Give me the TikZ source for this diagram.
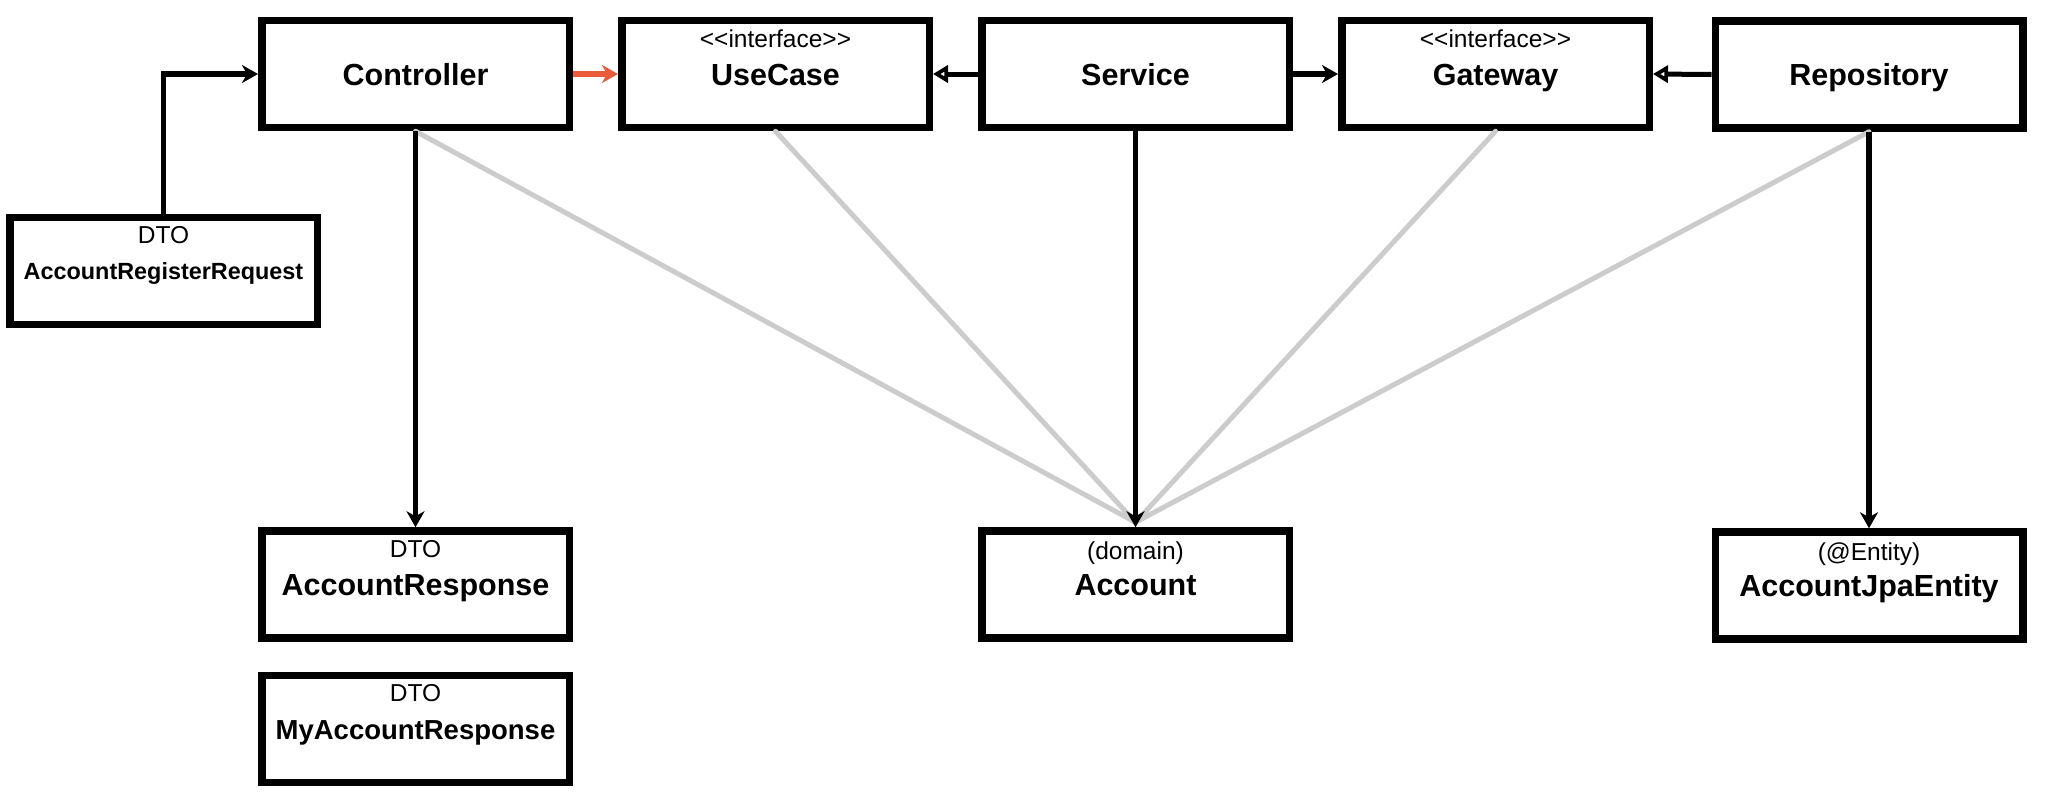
\documentclass[tikz,border=0pt]{standalone}
\usepackage{fontspec}
\setmainfont{Liberation Sans}
\usetikzlibrary{arrows.meta}
\definecolor{arrred}{HTML}{EA5B3C}
\definecolor{lgray}{HTML}{CCCCCC}
\begin{document}
\begin{tikzpicture}[x=1pt,y=-1pt,
  box/.style={draw=black, line width=7.5pt, rectangle, minimum width=307.5pt, minimum height=107pt, inner sep=0pt, fill=white, font=\fontsize{30.5}{36}\selectfont\bfseries, text height=22pt, text depth=0pt},
  smallname/.style={font=\fontsize{23.4}{28}\selectfont\bfseries, text height=17pt},
  midname/.style={font=\fontsize{27.5}{32}\selectfont\bfseries, text height=20pt},
  lbl/.style={font=\fontsize{24.5}{29}\selectfont, inner sep=0pt, text height=17.5pt, text depth=0pt},
  dep/.style={line width=5.5pt, -{Stealth[length=16pt,width=18pt,inset=5pt]}},
  impl/.style={line width=5pt, -{Triangle[open,length=15pt,width=17pt,line width=4.5pt]}},
  assoc/.style={lgray, line width=5pt, line cap=round},
]
\useasboundingbox (0,0) rectangle (2046,804);

% top row
\node[box] (ctrl) at (415.5,74) {Controller};
\node[box] (uc) at (775.5,74) {UseCase};
\node[box] (svc) at (1135.5,74) {Service};
\node[box] (gw) at (1495.5,74) {Gateway};
\node[box] (repo) at (1869,74.5) {Repository};

% left DTO
\node[box, smallname] (req) at (163.5,271) {AccountRegisterRequest};

% bottom row
\node[box] (resp) at (415.5,584.5) {AccountResponse};
\node[box, midname] (myresp) at (415.5,729) {MyAccountResponse};
\node[box] (acc) at (1135.5,584.5) {Account};
\node[box] (jpa) at (1869,585.5) {AccountJpaEntity};

% small labels
\node[lbl] (ucl) at ([yshift=-22pt]uc.north) {<{}<interface>{}>};
\node[lbl] (gwl) at ([yshift=-22pt]gw.north) {<{}<interface>{}>};
\node[lbl] (reql) at ([yshift=-21pt]req.north) {DTO};
\node[lbl] (respl) at ([yshift=-21pt]resp.north) {DTO};
\node[lbl] (myrespl) at ([yshift=-21pt]myresp.north) {DTO};
\node[lbl] (accl) at ([yshift=-23pt]acc.north) {(domain)};
\node[lbl] (jpal) at ([yshift=-23pt]jpa.north) {(@Entity)};

\coordinate (accTop) at ([yshift=5pt]acc.north);

% grey associations
\draw[assoc] (ctrl.south) -- (accTop);
\draw[assoc] (uc.south) -- (accTop);
\draw[assoc] (gw.south) -- (accTop);
\draw[assoc] (repo.south) -- (accTop);

% dependencies
\draw[dep] (req.north) |- (ctrl.west);
\draw[dep, arrred] (ctrl.east) -- (uc.west);
\draw[impl] (svc.west) -- (uc.east);
\draw[dep] (svc.east) -- (gw.west);
\draw[impl] (repo.west) -- (gw.east);
\draw[dep] (ctrl.south) -- (resp.north);
\draw[dep] (svc.south) -- (acc.north);
\draw[dep] (repo.south) -- (jpa.north);
\end{tikzpicture}
\end{document}
